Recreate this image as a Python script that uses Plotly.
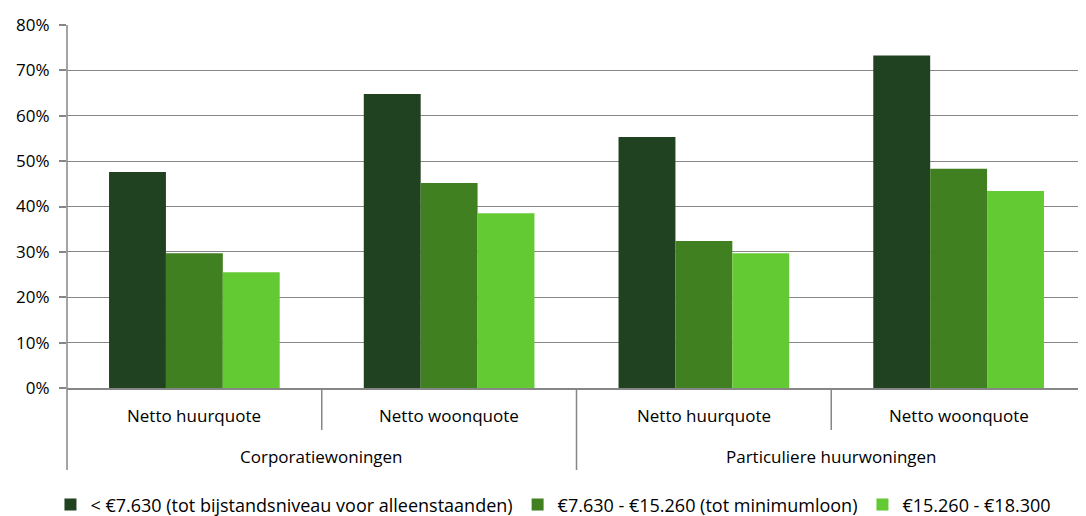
import plotly.graph_objects as go

sub_labels = ["Netto huurquote", "Netto woonquote", "Netto huurquote", "Netto woonquote"]
group_labels = ["Corporatiewoningen", "Particuliere huurwoningen"]
series_names = [
    "< €7.630 (tot bijstandsniveau voor alleenstaanden)",
    "€7.630 - €15.260 (tot minimumloon)",
    "€15.260 - €18.300",
]
low_income = [0.476, 0.648, 0.553, 0.733]
mid_income = [0.297, 0.452, 0.324, 0.483]
high_income = [0.255, 0.385, 0.297, 0.434]
colors = ["#214220", "#418020", "#64CA34"]

FONT = "Open Sans"
GRAY = "#868686"
x = list(range(len(sub_labels)))

fig = go.Figure()
for name, vals, col in zip(series_names, [low_income, mid_income, high_income], colors):
    fig.add_trace(go.Bar(x=x, y=vals, name=name, marker=dict(color=col, line=dict(width=0))))

shapes = []
# left axis line extended downwards
shapes.append(dict(type="line", xref="paper", yref="paper", x0=0, x1=0, y0=-0.226, y1=1,
                   line=dict(color=GRAY, width=1.5)))
# dividers
for i in range(1, len(sub_labels)):
    full = (i % 2 == 0)
    shapes.append(dict(type="line", xref="x", yref="paper", x0=i - 0.5, x1=i - 0.5,
                       y0=-0.226 if full else -0.116, y1=0,
                       line=dict(color=GRAY, width=1.5)))

annotations = []
for i, lab in enumerate(sub_labels):
    annotations.append(dict(x=i, y=-0.077, xref="x", yref="paper", text=lab, showarrow=False,
                            yanchor="middle", xanchor="center",
                            font=dict(family=FONT, size=17, color="#000000")))
for j, lab in enumerate(group_labels):
    annotations.append(dict(x=2 * j + 0.5, y=-0.19, xref="x", yref="paper", text=lab, showarrow=False,
                            yanchor="middle", xanchor="center",
                            font=dict(family=FONT, size=17, color="#000000")))

fig.update_layout(
    width=1078, height=508,
    margin=dict(l=59, r=0, t=17, b=128, autoexpand=False),
    plot_bgcolor="white", paper_bgcolor="white",
    barmode="group", bargap=0.33, bargroupgap=0,
    font=dict(family=FONT, size=17, color="#000000"),
    shapes=shapes, annotations=annotations,
    legend=dict(orientation="h", xref="container", x=0.506, xanchor="center",
                yref="container", y=0.022, yanchor="middle",
                font=dict(family=FONT, size=18), itemwidth=30, tracegroupgap=0,
                itemsizing="constant"),
    xaxis=dict(range=[-0.5, len(sub_labels) - 0.5], showticklabels=False, showgrid=False,
               zeroline=False, showline=True, linecolor=GRAY, linewidth=2, ticks="",
               automargin=False),
    yaxis=dict(range=[0, 0.8], dtick=0.1, tickformat=".0%", showgrid=True, gridcolor=GRAY,
               gridwidth=1, zeroline=False, showline=False, ticks="outside", ticklen=7,
               tickcolor=GRAY, tickwidth=1.5, ticklabelstandoff=6, automargin=False,
               tickfont=dict(family=FONT, size=17)),
)

fig.write_html("out.html")
